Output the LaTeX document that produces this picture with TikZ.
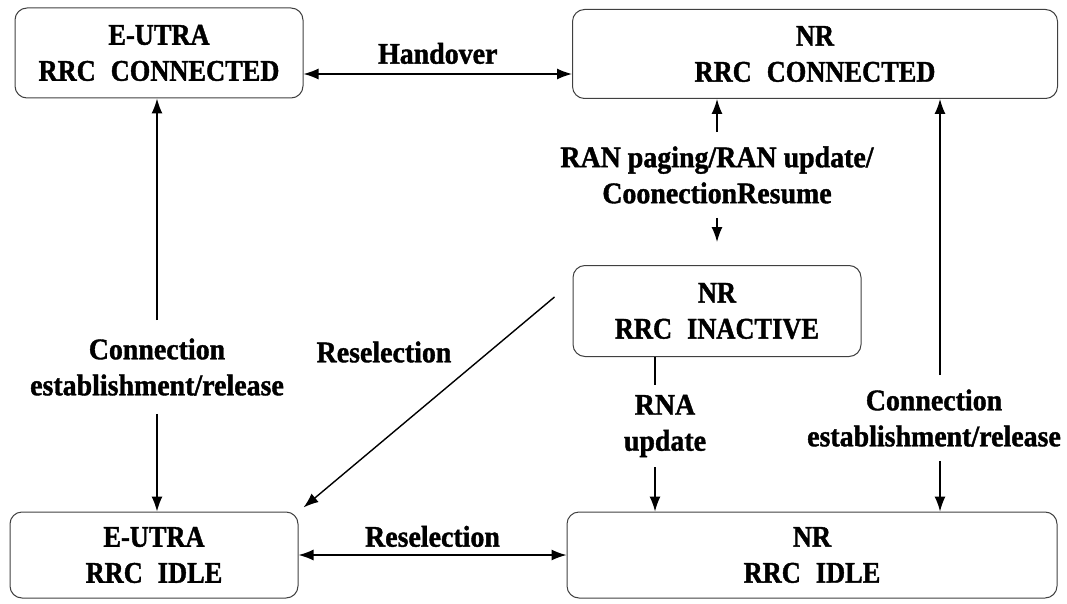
\documentclass[tikz,border=0pt]{standalone}
\usepackage{fontspec}
\setmainfont{Liberation Serif}[FakeStretch=0.88,FakeBold=1.3]
\newfontfamily\lblfont{Liberation Serif}[FakeStretch=0.93,FakeBold=1.3]
\usetikzlibrary{positioning}
\usetikzlibrary{shapes,arrows,arrows.meta}
\tikzstyle{block} = [rectangle, draw=black!75, line width=1pt, rounded corners=12pt,
  align=center, font=\bfseries\fontsize{30}{36}\selectfont]
\tikzstyle{txt} = [align=center, inner xsep=2pt, font=\lblfont\bfseries\fontsize{30}{36}\selectfont]
\tikzstyle{line} = [draw, line width=1.4pt, -{Latex[length=15pt,width=11pt]}]
\tikzstyle{dline} = [draw, line width=1.4pt, {Latex[length=15pt,width=11pt]}-{Latex[length=15pt,width=11pt]}]
\tikzstyle{plain} = [draw, line width=1.4pt]

\begin{document}
\begin{tikzpicture}[x=1pt, y=-1pt]
    \useasboundingbox (0,0) rectangle (1067,604);
    % nodes
    \node (econn) [block, minimum width=288pt, minimum height=90pt] at (159,53) {E-UTRA\\RRC\enspace CONNECTED};
    \node (nrconn) [block, minimum width=485pt, minimum height=89pt] at (815,54) {NR\\RRC\enspace CONNECTED};
    \node (inactive) [block, minimum width=288pt, minimum height=91pt] at (717,311) {NR\\RRC\enspace INACTIVE};
    \node (eidle) [block, minimum width=288pt, minimum height=86pt] at (154,555) {E-UTRA\\RRC\enspace IDLE};
    \node (nridle) [block, minimum width=490pt, minimum height=86pt] at (812,555) {NR\\RRC\enspace IDLE};

    \node (ranlbl) [txt, inner ysep=14pt] at (717,175) {RAN paging/RAN update/\\CoonectionResume};
    \node (econnlbl) [txt, inner ysep=18pt] at (157,367) {Connection\\establishment/release};
    \node (nrconnlbl) [txt, inner ysep=14pt] at (934,418) {Connection\\establishment/release};
    \node (rnalbl) [txt, inner ysep=10pt] at (665,426) {RNA\\update};
    \node (diaglbl) [txt] at (384,352) {Reselection};

    \coordinate (rnax) at ([xshift=-62pt]inactive.south);
    \coordinate (nrx) at ([xshift=125pt]nrconn.south);
    \coordinate (dstart) at ([shift={(-18,-14)}]inactive.west);
    \coordinate (dend) at ([shift={(5,-4)}]eidle.north east);

    % edges
         \path [dline] ([yshift=-21pt]econn.east) -- ([yshift=-21pt]econn.east -| nrconn.west)
               node [txt, midway, above=6pt] (holbl) {Handover};
         \path [dline] (eidle) -- (nridle)
               node [txt, midway, above=4pt] (reslbl) {Reselection};
         \path [line] (ranlbl.north) -- (ranlbl.north |- nrconn.south);
         \path [line, shorten >=23pt] (ranlbl.south) -- (ranlbl.south |- inactive.north);
         \path [line] (econnlbl.north) -- (econnlbl.north |- econn.south);
         \path [line] (econnlbl.south) -- (econnlbl.south |- eidle.north);
         \path [line] (nrx |- nrconnlbl.north) -- (nrx);
         \path [line] (nrx |- nrconnlbl.south) -- (nrx |- nridle.north);
         \path [plain] (rnax) -- (rnax |- rnalbl.north);
         \path [line] (rnax |- rnalbl.south) -- (rnax |- nridle.north);
         \path [line] (dstart) -- (dend);

  \end{tikzpicture}
\end{document}
